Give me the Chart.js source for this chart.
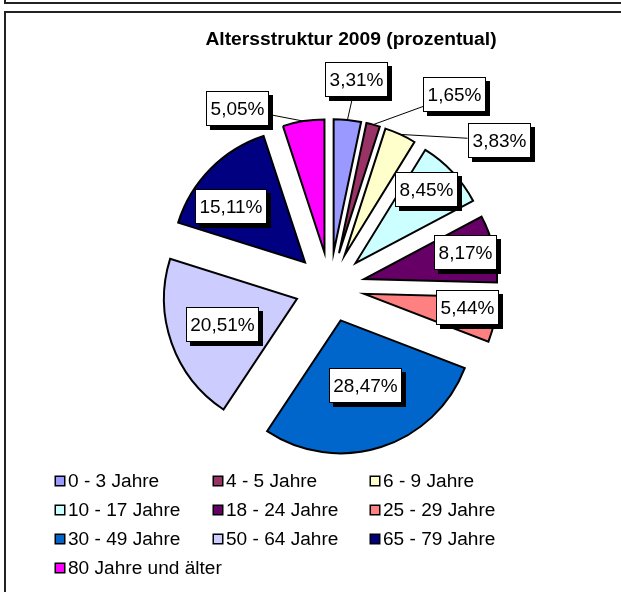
<!DOCTYPE html>
<html><head><meta charset="utf-8">
<script src="https://cdn.jsdelivr.net/npm/chart.js@4"></script>
<style>html,body{margin:0;padding:0;background:#fff;} canvas{display:block;}</style>
</head><body>
<canvas id="c" width="621" height="592"></canvas>
<script>
// ---- data ----
const categories = ['0 - 3 Jahre','4 - 5 Jahre','6 - 9 Jahre','10 - 17 Jahre','18 - 24 Jahre','25 - 29 Jahre','30 - 49 Jahre','50 - 64 Jahre','65 - 79 Jahre','80 Jahre und älter'];
const shares = [3.31,1.65,3.83,8.45,8.17,5.44,28.47,20.51,15.11,5.05];
const colors = ['#9999FF','#993366','#FFFFCC','#CCFFFF','#660066','#FF8080','#0066CC','#CCCCFF','#000080','#FF00FF'];
const chartTitle = 'Altersstruktur 2009 (prozentual)';

// ---- layout ----
const PIE_R = 133, EXPLODE = 35;
const labelPolar = [[7.3,209],[33,229],[49,224],[44.8,137],[75.7,140],[98.7,138.6],[160,104.9],[250.8,113.9],[309,127.6],[332.7,200.8]];
const leaderFor = [true,true,true,false,false,false,false,false,false,true];
const legendCols = [55,213,370], legendRows = [481,510,539,568];

const fmt = v => v.toFixed(2).replace('.', ',') + '%';

function stretchText(ctx, txt, x, y, sx, align) {
  ctx.save();
  ctx.translate(x, y);
  ctx.scale(sx, 1);
  ctx.textAlign = align;
  ctx.fillText(txt, 0, 0);
  ctx.restore();
}
function pieCenter(chart) {
  const a = chart.chartArea;
  return [(a.left + a.right) / 2, (a.top + a.bottom) / 2];
}

// explode each slice outward along its bisector (keeps radius and angles as computed by Chart.js)
const explode = {
  id: 'explode',
  beforeDatasetsDraw(chart) {
    const [cx, cy] = pieCenter(chart);
    chart.getDatasetMeta(0).data.forEach(arc => {
      const mid = (arc.startAngle + arc.endAngle) / 2;
      arc.x = cx + Math.cos(mid) * EXPLODE;
      arc.y = cy + Math.sin(mid) * EXPLODE;
    });
  }
};

const decor = {
  id: 'decor',
  afterDraw(chart) {
    const ctx = chart.ctx;
    const meta = chart.getDatasetMeta(0);
    const [cx, cy] = pieCenter(chart);
    ctx.save();
    // frames
    ctx.fillStyle = '#222';
    ctx.fillRect(4, 2, 617, 2); ctx.fillRect(4, 0, 2, 3);
    ctx.fillRect(4, 11, 617, 2); ctx.fillRect(4, 11, 2, 581);
    // title
    ctx.fillStyle = '#000';
    ctx.font = 'bold 18px "Liberation Sans", Arial, sans-serif';
    ctx.textBaseline = 'alphabetic';
    stretchText(ctx, chartTitle, 351, 45, 1.07, 'center');

    // data labels
    ctx.font = '19px "Liberation Sans", Arial, sans-serif';
    meta.data.forEach((arc, i) => {
      const [deg, d] = labelPolar[i];
      const a = deg * Math.PI / 180;
      const lx = cx + d * Math.sin(a), ly = cy - d * Math.cos(a);
      const txt = fmt(shares[i]);
      const w = Math.round(ctx.measureText(txt).width + 9), h = 35;
      const bx = Math.round(lx - w / 2), by = Math.round(ly - h / 2);
      if (leaderFor[i]) {
        const mid = (arc.startAngle + arc.endAngle) / 2;
        const px = arc.x + Math.cos(mid) * arc.outerRadius, py = arc.y + Math.sin(mid) * arc.outerRadius;
        const dx = px - lx, dy = py - ly;
        const t = Math.min((w / 2) / Math.abs(dx || 1e-6), (h / 2) / Math.abs(dy || 1e-6));
        const ex = lx + dx * t, ey = ly + dy * t;
        ctx.strokeStyle = '#000'; ctx.lineWidth = 1;
        ctx.beginPath(); ctx.moveTo(ex, ey); ctx.lineTo(px, py); ctx.stroke();
      }
      ctx.fillStyle = '#000';
      ctx.fillRect(bx + 4, by + 4, w, h);
      ctx.fillStyle = '#fff';
      ctx.fillRect(bx, by, w, h);
      ctx.strokeStyle = '#000'; ctx.lineWidth = 1;
      ctx.strokeRect(bx + 0.5, by + 0.5, w - 1, h - 1);
      ctx.fillStyle = '#000';
      ctx.textAlign = 'center'; ctx.textBaseline = 'middle';
      ctx.fillText(txt, bx + w / 2, by + h / 2 + 1);
    });

    // legend
    ctx.font = '18px "Liberation Sans", Arial, sans-serif';
    ctx.textBaseline = 'middle';
    const bg = chart.data.datasets[0].backgroundColor;
    chart.data.labels.forEach((lab, i) => {
      const x = legendCols[i % 3], y = legendRows[Math.floor(i / 3)];
      ctx.fillStyle = bg[i];
      ctx.fillRect(x, y - 5, 10, 10);
      ctx.strokeStyle = '#000'; ctx.lineWidth = 1.5;
      ctx.strokeRect(x + 0.25, y - 4.75, 9.5, 9.5);
      ctx.fillStyle = '#000';
      stretchText(ctx, lab, x + 13, y + 1, 1.06, 'left');
    });
    ctx.restore();
  }
};

new Chart(document.getElementById('c'), {
  type: 'pie',
  data: {
    labels: categories,
    datasets: [{
      data: shares,
      backgroundColor: colors,
      borderColor: '#000',
      borderWidth: 2,
      borderJoinStyle: 'miter',
      offset: 0,
      clip: false
    }]
  },
  options: {
    responsive: false,
    animation: false,
    events: [],
    radius: PIE_R,
    layout: { padding: { left: 40, right: 1, top: 100, bottom: 118 } },
    plugins: { legend: { display: false }, title: { display: false }, tooltip: { enabled: false } }
  },
  plugins: [explode, decor]
});
</script>
</body></html>
